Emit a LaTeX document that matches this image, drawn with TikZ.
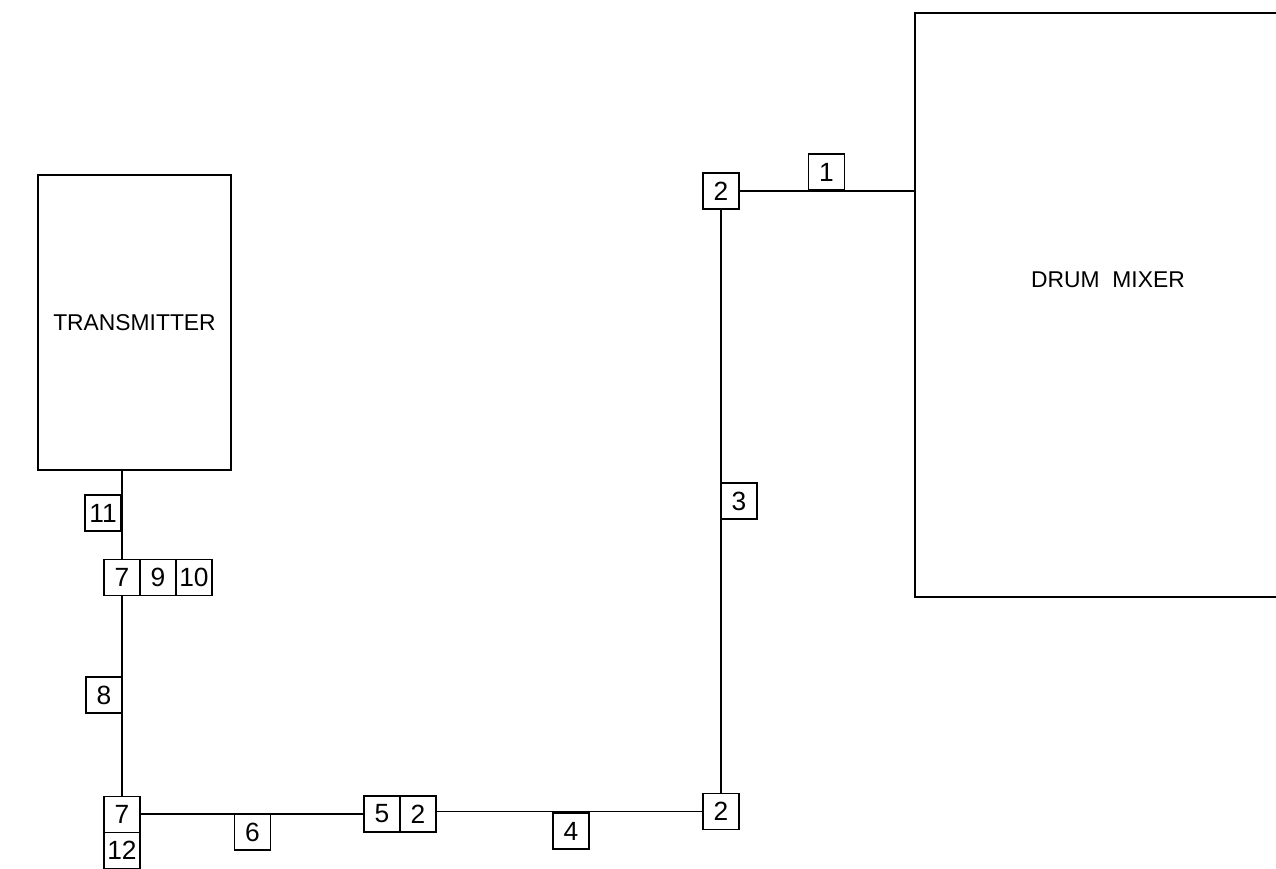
\documentclass[tikz,border=0pt]{standalone}
\usepackage{fontspec}
\setmainfont{Liberation Sans}
\usepackage{tikz}
\usetikzlibrary{positioning}

\begin{document}
\begin{tikzpicture}[
    x=0.02cm, y=-0.02cm,
    every path/.style={line width=0.8pt},
    tag/.style={rectangle, draw=black, line width=0.8pt, minimum width=0.72cm, minimum height=0.72cm, inner sep=0pt, outer sep=0pt, font=\fontsize{15}{17}\selectfont},
    unit/.style={rectangle, draw=black, line width=0.8pt, inner sep=0pt, outer sep=0pt, font=\fontsize{13}{15}\selectfont},
    wire/.style={line width=0.8pt, black},
]
\useasboundingbox (0,0) rectangle (1276,869);

% equipment
\node[unit, minimum width=3.86cm, minimum height=5.9cm] (tx) at (134.5,322.5) {TRANSMITTER};
\draw[wire] (1276,13) -- (915,13) -- (915,597) -- (1276,597);
\node[font=\fontsize{13}{15}\selectfont] (mixer) at (1108,280) {DRUM\ \ MIXER};
\coordinate (mxin) at (915,191);

% tags along the run
\node[tag] (t1) at (826.5,172) {1};
\node[tag] (t2a) at (721,191) {2};
\node[tag] (t3) at (739,501) {3};
\node[tag] (t2b) at (721,811.5) {2};
\node[tag] (t4) at (571,831) {4};
\node[tag] (t5) at (382,814) {5};
\node[tag, right=0pt of t5] (t2c) {2};
\node[tag] (t6) at (252.5,832) {6};
\node[tag] (t7b) at (122,814.5) {7};
\node[tag, below=0pt of t7b] (t12) {12};
\node[tag] (t8) at (104,695) {8};
\node[tag] (t7a) at (122,577.5) {7};
\node[tag, right=0pt of t7a] (t9) {9};
\node[tag, right=0pt of t9] (t10) {10};
\node[tag] (t11) at (103,513) {11};

% wiring
\draw[wire] (t2a.east) -- (t2a.east -| mxin);
\draw[wire] (t2a.south) -- (t2b.north);
\draw[wire] (t2b.west) -- (t2b.west -| t2c.east);
\draw[wire] (t5.west) -- (t5.west -| t7b.east);
\draw[wire] (t7b.north) -- (t7a.south);
\draw[wire] (t7a.north) -- (t7a.north |- tx.south);
\end{tikzpicture}
\end{document}
